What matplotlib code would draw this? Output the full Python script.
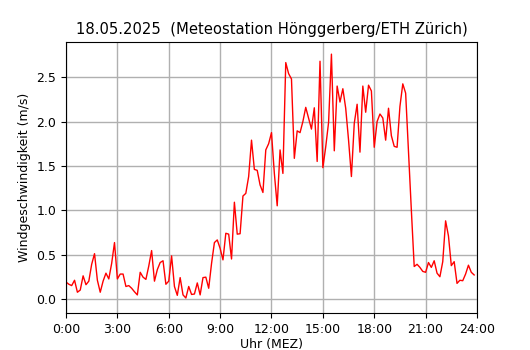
import numpy as np
import matplotlib
matplotlib.use("Agg")
import matplotlib.pyplot as plt

# wind speed (m/s), 10-minute values from 0:00 to 23:50
wind = [
    0.19, 0.165, 0.15, 0.21, 0.075, 0.10, 0.26, 0.16, 0.20, 0.39,
    0.51, 0.21, 0.075, 0.20, 0.29, 0.225, 0.40, 0.635, 0.225, 0.28,
    0.28, 0.14, 0.15, 0.12, 0.08, 0.045, 0.30, 0.245, 0.22, 0.37,
    0.545, 0.20, 0.33, 0.41, 0.43, 0.165, 0.20, 0.485, 0.14, 0.04,
    0.24, 0.045, 0.01, 0.14, 0.05, 0.055, 0.18, 0.045, 0.24, 0.245,
    0.12, 0.40, 0.635, 0.665, 0.57, 0.44, 0.74, 0.73, 0.45, 1.09,
    0.73, 0.735, 1.16, 1.19, 1.38, 1.79, 1.46, 1.45, 1.285, 1.20,
    1.68, 1.75, 1.875, 1.415, 1.05, 1.68, 1.415, 2.665, 2.54, 2.48,
    1.585, 1.895, 1.875, 2.0, 2.16, 2.035, 1.915, 2.155, 1.55, 2.68,
    1.48, 1.715, 1.99, 2.76, 1.67, 2.40, 2.22, 2.37, 2.15, 1.79,
    1.38, 1.98, 2.195, 1.655, 2.40, 2.105, 2.41, 2.345, 1.71, 2.0,
    2.085, 2.04, 1.79, 2.15, 1.84, 1.72, 1.71, 2.17, 2.425, 2.32,
    1.65, 1.0, 0.365, 0.39, 0.355, 0.31, 0.30, 0.41, 0.355, 0.43,
    0.29, 0.25, 0.42, 0.88, 0.71, 0.375, 0.42, 0.175, 0.21, 0.205,
    0.28, 0.38, 0.30, 0.27,
]
hours = np.arange(len(wind)) / 6.0

tick_hours = [0, 3, 6, 9, 12, 15, 18, 21, 24]
tick_labels = ["0:00", "3:00", "6:00", "9:00", "12:00", "15:00", "18:00", "21:00", "24:00"]
y_ticks = [0.0, 0.5, 1.0, 1.5, 2.0, 2.5]

fig = plt.figure(figsize=(5.3, 3.5), dpi=100)
ax = fig.add_axes([0.1245, 0.106, 0.7755, 0.774])
ax.plot(hours, wind, color="red", linewidth=1.0)
ax.set_xlim(0, 24)
ax.set_ylim(-0.158, 2.897)
ax.set_xticks(tick_hours)
ax.set_xticklabels(tick_labels)
ax.set_yticks(y_ticks)
ax.tick_params(labelsize=9)
ax.grid(True, color="#b0b0b0", linewidth=1.0)
ax.set_axisbelow(True)
ax.set_xlabel("Uhr (MEZ)", fontsize=9, labelpad=2)
ax.set_ylabel("Windgeschwindigkeit (m/s)", fontsize=9)
ax.set_title("18.05.2025  (Meteostation Hönggerberg/ETH Zürich)", fontsize=10.65)
fig.savefig("out.png", dpi=100)
